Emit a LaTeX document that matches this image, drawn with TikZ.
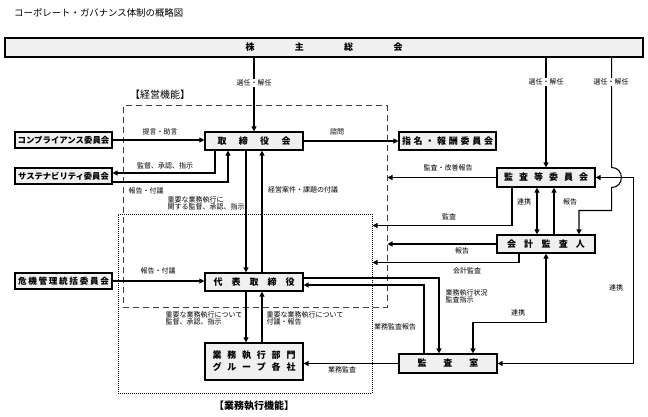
\documentclass[tikz,border=0pt]{standalone}
\usepackage{fontspec}
\setmainfont{Noto Sans CJK JP}
\usetikzlibrary{arrows.meta,calc}
\definecolor{boxgray}{HTML}{F0F0F0}
\newcommand{\sprd}[2]{\makebox[#1][s]{#2}}

\begin{document}
\begin{tikzpicture}[x=1pt,y=-1pt,
	>={Triangle[length=5pt,width=5pt]},
	box/.style={draw, line width=1.2pt, fill=boxgray, inner sep=0pt, font=\bfseries\fontsize{9}{12}\selectfont},
	lbl/.style={inner sep=0.5pt, font=\fontsize{7}{7.5}\selectfont},
	conn/.style={line width=1.1pt}]
			\useasboundingbox (0,0) rectangle (648,417);
			\node[anchor=west, inner sep=0pt, font=\fontsize{9.4}{10}\selectfont] (title) at (14,13) {コーポレート・ガバナンス体制の概略図};
			% frames
			\node (mgmt) [draw=black!75, dash pattern=on 6pt off 4pt, line width=1pt, minimum width=264pt, minimum height=201pt, inner sep=0pt] at (255,206.5) {};
			\node (ops) [draw, densely dotted, line width=1pt, minimum width=254pt, minimum height=179pt, inner sep=0pt] at (245,303.5) {};
			\node (mgmtlbl) [font=\fontsize{10}{12}\selectfont] at (160,95) {【経営機能】};
			\node (opslbl) [font=\bfseries\fontsize{10}{12}\selectfont] at (254,406) {【業務執行機能】};
			% boxes
			\node (agm) [box, minimum width=638pt, minimum height=19pt] at (324,47.5) {\sprd{157pt}{株\hfill 主\hfill 総\hfill 会}};
			\node (board) [box, minimum width=98pt, minimum height=18pt] at (254,141) {\sprd{73pt}{取\hfill 締\hfill 役\hfill 会}};
			\node (comp) [box, minimum width=97pt, minimum height=16pt, font=\bfseries\fontsize{8.4}{10}\selectfont] at (63.5,140) {コンプライアンス委員会};
			\node (sust) [box, minimum width=97pt, minimum height=16pt, font=\bfseries\fontsize{8.3}{10}\selectfont] at (63.5,176) {サステナビリティ委員会};
			\node (risk) [box, minimum width=97pt, minimum height=16pt, font=\bfseries\fontsize{8.6}{10}\selectfont] at (63.5,281) {\sprd{91pt}{危\hfill 機\hfill 管\hfill 理\hfill 統\hfill 括\hfill 委\hfill 員\hfill 会}};
			\node (rep) [box, minimum width=98pt, minimum height=18pt] at (254,282) {\sprd{81pt}{代\hfill 表\hfill 取\hfill 締\hfill 役}};
			\node (exec) [box, minimum width=98pt, minimum height=37pt, align=center] at (254,361.5) {\sprd{83pt}{業\hfill 務\hfill 執\hfill 行\hfill 部\hfill 門}\\\sprd{83pt}{グ\hfill ル\hfill ー\hfill プ\hfill 各\hfill 社}};
			\node (nom) [box, minimum width=97pt, minimum height=18pt] at (447.5,141) {\sprd{91pt}{指\hfill 名\hfill ・\hfill 報\hfill 酬\hfill 委\hfill 員\hfill 会}};
			\node (ac) [box, minimum width=98pt, minimum height=19pt] at (546,177.5) {\sprd{84pt}{監\hfill 査\hfill 等\hfill 委\hfill 員\hfill 会}};
			\node (aud) [box, minimum width=98pt, minimum height=18pt] at (546,244) {\sprd{78pt}{会\hfill 計\hfill 監\hfill 査\hfill 人}};
			\node (ia) [box, minimum width=98pt, minimum height=19pt] at (448,363.5) {\sprd{61pt}{監\hfill 査\hfill 室}};
			% shareholders
			\draw[conn,->] (agm.south -| board.north) -- (board.north);
			\node (el1) [lbl, fill=white] at (254,83) {選任・解任};
			\draw[conn,->] (agm.south -| ac.north) -- (ac.north);
			\node (el2) [lbl, fill=white] at (546,82) {選任・解任};
			\draw[conn,->] ($(agm.south -| ac.east)+(16,0)$) -- ($(ac.east)+(16,-10)$)
			.. controls ($(ac.east)+(29,-10)$) and ($(ac.east)+(29,10)$) .. ($(ac.east)+(16,10)$)
			-- ($(ac.east)+(16,33)$) -| ($(aud.north)+(33,0)$);
			\node (el3) [lbl, fill=white] at (611,82) {選任・解任};
			% committees
			\draw[conn,->] (comp.east) -- (comp.east -| board.west);
			\node (l4) [lbl] at (160,132) {提言・助言};
			\draw[conn,->] ($(board.south)+(-39,0)$) |- ($(sust.east)+(0,-3)$);
			\node (l5) [lbl] at (165,166) {監督、承認、指示};
			\draw[conn,->] ($(sust.east)+(0,6)$) -| ($(board.south)+(-26,0)$);
			\node (l6) [lbl] at (146,191) {報告・付議};
			\draw[conn,->] (risk.east) -- (risk.east -| rep.west);
			\node (l7) [lbl] at (158,271) {報告・付議};
			% board and representative directors
			\draw[conn,->] ($(board.south)+(-8,0)$) -- ($(rep.north)+(-8,0)$);
			\draw[conn,->] ($(rep.north)+(8,0)$) -- ($(board.south)+(8,0)$);
			\node (l8) [lbl, anchor=west, align=left] at (167,203.5) {重要な業務執行に\\関する監督、承認、指示};
			\node (l9) [lbl] at (303,190) {経営案件・課題の付議};
			\draw[conn,->] ($(rep.south)+(-8,0)$) -- ($(exec.north)+(-8,0)$);
			\draw[conn,->] ($(exec.north)+(8,0)$) -- ($(rep.south)+(8,0)$);
			\node (l10) [lbl, anchor=west, align=left] at (165,318.5) {重要な業務執行について\\監督、承認、指示};
			\node (l11) [lbl, anchor=west, align=left] at (266,318.5) {重要な業務執行について\\付議・報告};
			\draw[conn,->] (board.east) -- (board.east -| nom.west);
			\node (l12) [lbl] at (337,132) {諮問};
			% audit
			\draw[conn,->] (ac.west) -- (ac.west -| mgmt.east);
			\node (l13) [lbl] at (448,168) {監査・改善報告};
			\draw[conn,->] ($(ac.south)+(-34,0)$) |- ($(ops.north east)+(0,12)$);
			\node (l14) [lbl] at (449,217) {監査};
			\draw[conn,<->] ($(ac.south)+(-9,0)$) -- ($(aud.north)+(-9,0)$);
			\node (l15) [lbl] at (524,202) {連携};
			\draw[conn,->] ($(aud.north)+(8,0)$) -- ($(ac.south)+(8,0)$);
			\node (l16) [lbl] at (570,202) {報告};
			\draw[conn,->] (aud.west) -- (aud.west -| mgmt.east);
			\node (l17) [lbl] at (462,251) {報告};
			\draw[conn,->] ($(aud.south)+(-27,0)$) |- ($(ops.north east)+(0,49)$);
			\node (l18) [lbl] at (467,271) {会計監査};
			\draw[conn,<->] (ac.east) -- ++(38,0) |- (ia.east);
			\node (l19) [lbl] at (616,288) {連携};
			\draw[conn,<->] ($(ia.north)+(25,0)$) |- ($(aud.south)+(0,69)$) -- (aud.south);
			\node (l20) [lbl] at (518,313) {連携};
			% internal audit
			\draw[conn,->] ($(rep.east)+(0,-4)$) -| ($(ia.north)+(-9,0)$);
			\node (l21) [lbl, anchor=west, align=left] at (445,296.5) {業務執行状況\\監査指示};
			\draw[conn,->] ($(ia.north)+(-24,0)$) |- ($(rep.east)+(0,3)$);
			\node (l22) [lbl] at (395,327) {業務監査報告};
			\draw[conn,->] (ia.west) -- (ia.west -| exec.east);
			\node (l23) [lbl] at (342,370) {業務監査};
\end{tikzpicture}
\end{document}
